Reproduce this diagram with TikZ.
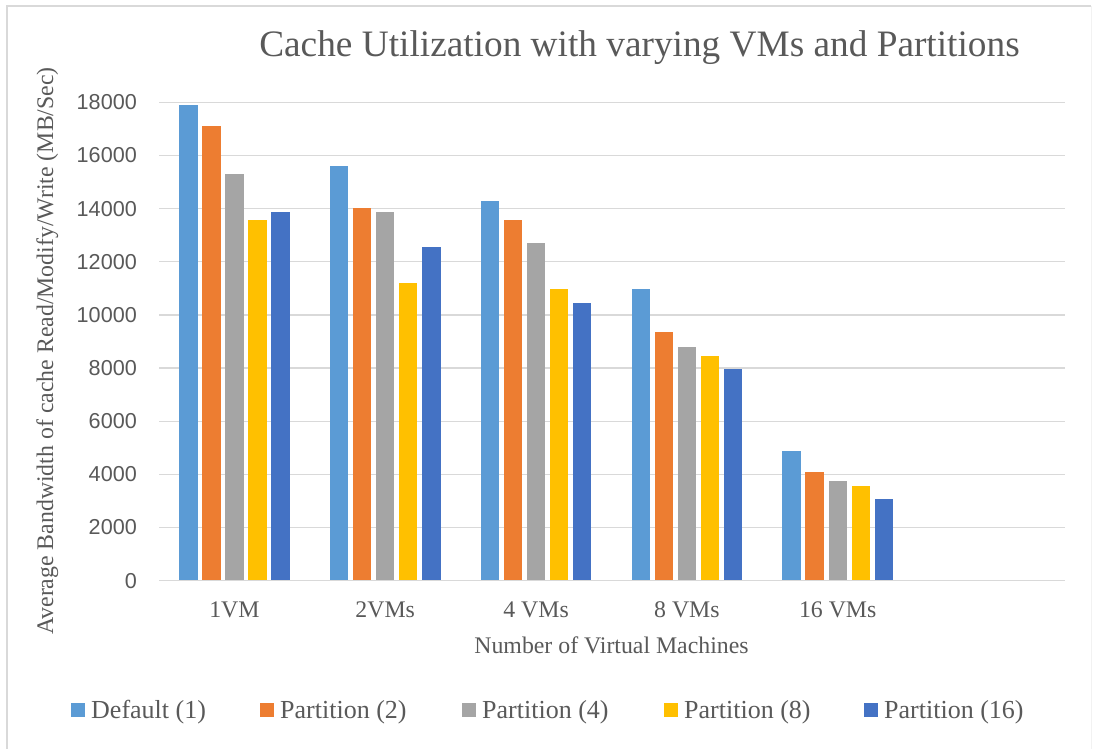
\documentclass[tikz,border=0pt]{standalone}
\usepackage{fontspec}
\setmainfont{Liberation Serif}
\newfontfamily\ticksans{Liberation Sans}

\definecolor{txt}{HTML}{595959}
\definecolor{grid}{HTML}{D9D9D9}
\definecolor{frame}{HTML}{D9D9D9}
\definecolor{ser0}{HTML}{5B9BD5}
\definecolor{ser1}{HTML}{ED7D31}
\definecolor{ser2}{HTML}{A5A5A5}
\definecolor{ser3}{HTML}{FFC000}
\definecolor{ser4}{HTML}{4472C4}

\begin{document}
\begin{tikzpicture}[x=1bp,y=-1bp,
  titlefont/.style={font=\fontsize{37.3bp}{44bp}\selectfont, text=txt, inner sep=0pt},
  ticklabel/.style={font=\ticksans\fontsize{21.6bp}{26bp}\selectfont, text=txt, inner sep=0pt, anchor=east},
  catlabel/.style={font=\fontsize{23.8bp}{28bp}\selectfont, text=txt, inner sep=0pt, anchor=base},
  axistitle/.style={font=\fontsize{23.8bp}{28bp}\selectfont, text=txt, inner sep=0pt, anchor=base},
  legkey/.style={minimum width=14bp, minimum height=14bp, inner sep=0pt, anchor=west},
  legtext/.style={font=\fontsize{26bp}{30bp}\selectfont, text=txt, inner sep=0pt, anchor=base west},
  gridline/.style={grid, line width=1.3bp}
]
\useasboundingbox (0,0) rectangle (1093,749);

% chart frame
\draw[frame, line width=1.2bp] (7,749) -- (7,6) -- (1091,6);
\draw[frame!35, line width=1bp] (1091,6) -- (1091,749);

% title
\node[titlefont, anchor=base] (title) at (639.5,57) {Cache Utilization with varying VMs and Partitions};

% value gridlines and tick labels (0 ... 18000, 2000 per step)
\foreach \k in {0,...,9} {
  \pgfmathsetmacro\gy{580.7-\k*53.16}
  \draw[gridline] (159,\gy) -- (1064.5,\gy);
  \node[ticklabel] (tick\k) at (137,\gy) {\the\numexpr\k*2000\relax};
}

% clustered bars, values in thousands of MB/Sec: group/default/p2/p4/p8/p16
\foreach \g/\a/\b/\c/\d/\e in {
  0/17.90/17.11/15.29/13.56/13.88,
  1/15.61/14.03/13.87/11.21/12.54,
  2/14.27/13.56/12.70/10.97/10.44,
  3/10.97/9.36/8.79/8.47/7.98,
  4/4.87/4.08/3.76/3.55/3.06} {
  \pgfmathsetmacro\cx{159+150.83*(\g+0.5)}
  \foreach \v [count=\j from 0] in {\a,\b,\c,\d,\e} {
    \pgfmathsetmacro\bx{\cx+(\j-2)*23.05}
    \pgfmathsetmacro\by{580.7-\v*26.58}
    \fill[ser\j] (\bx-9.2,580.7) rectangle (\bx+9.2,\by);
  }
}

% category axis line
\draw[gridline] (159,580.7) -- (1064.5,580.7);

% category labels
\foreach \g/\t in {0/1VM,1/2VMs,2/4 VMs,3/8 VMs,4/16 VMs} {
  \pgfmathsetmacro\cx{159+150.83*(\g+0.5)}
  \node[catlabel] (cat\g) at (\cx,617) {\t};
}

% axis titles
\node[axistitle] (xtitle) at (611.5,653) {Number of Virtual Machines};
\node[axistitle, rotate=90] (ytitle) at (53,351) {Average Bandwidth of cache Read/Modify/Write (MB/Sec)};

% legend
\foreach \i/\lx/\t in {0/71/Default (1),1/260/Partition (2),2/462/Partition (4),3/664/Partition (8),4/864/Partition (16)} {
  \node[legkey, fill=ser\i] (key\i) at (\lx,710) {};
  \node[legtext] (leg\i) at (\lx+20,718.6) {\t};
}
\end{tikzpicture}
\end{document}
